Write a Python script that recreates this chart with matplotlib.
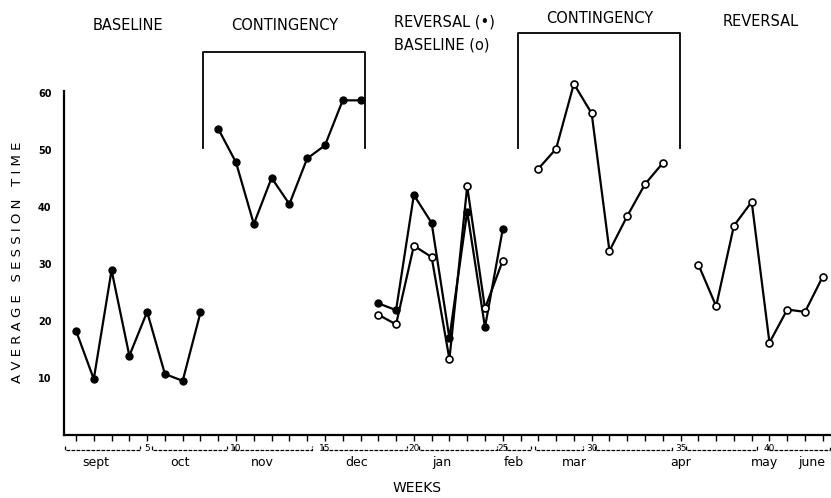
import numpy as np
import matplotlib
matplotlib.use('Agg')
import matplotlib.pyplot as plt

# values (weeks, average session time)
base_weeks = [1, 2, 3, 4, 5, 6, 7, 8]
base_vals = [18.3, 9.8, 28.9, 13.9, 21.6, 10.7, 9.5, 21.5]

cont1_weeks = [9, 10, 11, 12, 13, 14, 15, 16, 17]
cont1_vals = [53.7, 47.8, 37.0, 45.1, 40.5, 48.5, 50.8, 58.7, 58.7]

rev_weeks = [18, 19, 20, 21, 22, 23, 24, 25]
rev_vals = [23.1, 21.9, 42.1, 37.2, 17.0, 39.2, 18.9, 36.1]      # filled
base2_vals = [21.1, 19.4, 33.2, 31.2, 13.3, 43.6, 22.2, 30.6]    # open

cont2_weeks = [27, 28, 29, 30, 31, 32, 33, 34]
cont2_vals = [46.7, 50.2, 61.6, 56.4, 32.3, 38.4, 44.0, 47.7]

rev2_weeks = [36, 37, 38, 39, 40, 41, 42, 43]
rev2_vals = [29.9, 22.6, 36.7, 40.9, 16.2, 22.0, 21.6, 27.8]

months = ['sept', 'oct', 'nov', 'dec', 'jan', 'feb', 'mar', 'apr', 'may', 'june']
month_centers = [2.1, 6.85, 11.5, 16.8, 21.6, 25.6, 29.0, 35.0, 39.7, 42.4]
month_spans = [(0.4, 4.6), (5.3, 9.5), (9.9, 14.3), (14.9, 19.6), (20.3, 24.7),
               (25.2, 26.6), (26.8, 29.5), (30.2, 34.5), (35.3, 39.3), (39.9, 43.4)]
week_nums = [5, 10, 15, 20, 25, 30, 35, 40]

fig = plt.figure(figsize=(8.31, 4.98), dpi=100)
ax = fig.add_axes([64/831, 63/498, 767/831, 435/498])
ax.set_xlim(0.325, 43.46)
ax.set_ylim(0, 76.3)

lw = 1.6
ax.plot(base_weeks, base_vals, '-o', color='black', lw=lw, ms=5)
ax.plot(cont1_weeks, cont1_vals, '-o', color='black', lw=lw, ms=5)
ax.plot(rev_weeks, rev_vals, '-o', color='black', lw=lw, ms=5)
ax.plot(rev_weeks, base2_vals, '-o', color='black', lw=lw, ms=5,
        mfc='white', mec='black', mew=1.2)
ax.plot(cont2_weeks, cont2_vals, '-o', color='black', lw=lw, ms=5,
        mfc='white', mec='black', mew=1.2)
ax.plot(rev2_weeks, rev2_vals, '-o', color='black', lw=lw, ms=5,
        mfc='white', mec='black', mew=1.2)

# phase brackets over the contingency periods
ax.plot([8.14, 8.14, 17.25, 17.25], [50.4, 67.2, 67.2, 50.4], color='black', lw=1.3, clip_on=False)
ax.plot([25.86, 25.86, 34.97, 34.97], [50.4, 70.5, 70.5, 50.4], color='black', lw=1.3, clip_on=False)

# phase labels
fs = 10.5
ax.text(3.92, 71.9, 'BASELINE', ha='center', va='center', fontsize=fs)
ax.text(12.75, 71.9, 'CONTINGENCY', ha='center', va='center', fontsize=fs)
ax.text(18.9, 72.5, 'REVERSAL (•)', ha='left', va='center', fontsize=fs)
ax.text(18.9, 68.4, 'BASELINE (o)', ha='left', va='center', fontsize=fs)
ax.text(30.47, 73.0, 'CONTINGENCY', ha='center', va='center', fontsize=fs)
ax.text(39.5, 72.5, 'REVERSAL', ha='center', va='center', fontsize=fs)

# axes styling
for s in ['top', 'right']:
    ax.spines[s].set_visible(False)
ax.spines['left'].set_bounds(0, 60.3)
ax.spines['left'].set_linewidth(1.6)
ax.spines['bottom'].set_linewidth(1.6)

ax.set_yticks([10, 20, 30, 40, 50, 60])
ax.set_yticklabels(['10', '20', '30', '40', '50', '60'], fontsize=7, fontweight='bold')
ax.tick_params(axis='y', length=0, pad=9)
ax.set_xticks(range(1, 44))
ax.set_xticklabels([])
ax.tick_params(axis='x', length=4, width=1, direction='out')

# month brackets and week numbers under the axis
tr = ax.get_xaxis_transform()
for (a, b), name, c in zip(month_spans, months, month_centers):
    ax.plot([a, a, b, b], [-0.025, -0.035, -0.035, -0.025], color='black', lw=0.9,
            ls=(0, (3, 1)), transform=tr, clip_on=False)
    ax.text(c, -0.064, name, ha='center', va='center', fontsize=9, transform=tr)
for n in week_nums:
    ax.text(n, -0.03, str(n), ha='center', va='center', fontsize=6.5, transform=tr)

fig.text(18/831, 1 - 262/498, 'A V E R A G E   S E S S I O N   T I M E', rotation=90,
         ha='center', va='center', fontsize=9.5)
fig.text(417/831, 1 - 488/498, 'WEEKS', ha='center', va='center', fontsize=10)

fig.savefig('out.png', dpi=100)
